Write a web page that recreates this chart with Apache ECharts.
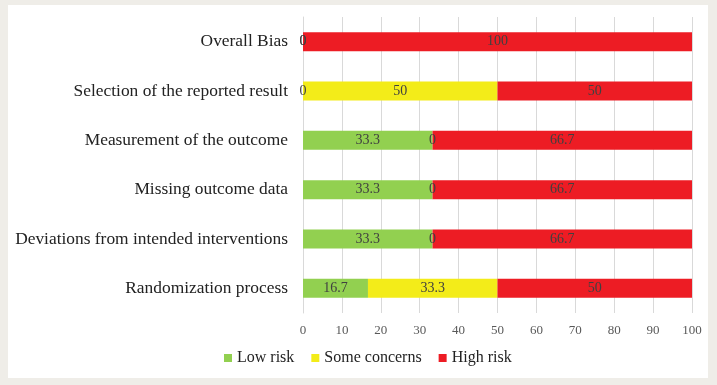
<!DOCTYPE html>
<html>
<head>
<meta charset="utf-8">
<script src="https://cdn.jsdelivr.net/npm/echarts@6/dist/echarts.min.js"></script>
<style>
  html, body { margin: 0; padding: 0; background: #efede8; }
  #chart { width: 717px; height: 385px; }
</style>
</head>
<body>
<div id="chart"></div>
<script>
// domains, top to bottom
const domains = [
  'Overall Bias',
  'Selection of the reported result',
  'Measurement of the outcome',
  'Missing outcome data',
  'Deviations from intended interventions',
  'Randomization process',
]
const lowRisk = [0, 0, 33.3, 33.3, 33.3, 16.7]
const someConcerns = [0, 50, 0, 0, 0, 33.3]
const highRisk = [100, 50, 66.7, 66.7, 66.7, 50]
const xTicks = [0, 10, 20, 30, 40, 50, 60, 70, 80, 90, 100]

const serif = '"Liberation Serif", "DejaVu Serif", serif'
const colors = { low: '#92d050', some: '#f3ec19', high: '#ed1c24' }

const chart = echarts.init(document.getElementById('chart'))

const barLabel = {
  show: true,
  position: 'inside',
  color: '#404040',
  fontFamily: serif,
  fontSize: 14,
}

function makeSeries(name, data, color) {
  return {
    name,
    type: 'bar',
    stack: 'total',
    data,
    barWidth: 19,
    itemStyle: { color },
    label: barLabel,
    emphasis: { disabled: true },
  }
}

chart.setOption({
  backgroundColor: '#efede8',
  animation: false,
  graphic: [
    {
      type: 'rect',
      z: -10,
      shape: { x: 8, y: 5, width: 700, height: 373 },
      style: { fill: '#ffffff' },
    },
  ],
  legend: {
    bottom: 14,
    left: 219,
    itemWidth: 8,
    itemHeight: 8,
    itemGap: 17,
    icon: 'rect',
    textStyle: { fontFamily: serif, fontSize: 16, color: '#222' },
    data: ['Low risk', 'Some concerns', 'High risk'],
  },
  grid: { left: 303, right: 25, top: 17, bottom: 72 },
  xAxis: {
    type: 'value',
    min: xTicks[0],
    max: xTicks[xTicks.length - 1],
    interval: 10,
    axisLine: { show: false },
    axisTick: { show: false },
    axisLabel: { color: '#595959', fontFamily: serif, fontSize: 13, margin: 11 },
    splitLine: { lineStyle: { color: '#d9d9d9', width: 1 } },
  },
  yAxis: {
    type: 'category',
    inverse: true,
    data: domains,
    axisLine: { lineStyle: { color: '#d9d9d9' } },
    axisTick: { show: false },
    axisLabel: { color: '#222', fontFamily: serif, fontSize: 17.4, margin: 15 },
  },
  series: [
    makeSeries('Low risk', lowRisk, colors.low),
    makeSeries('Some concerns', someConcerns, colors.some),
    makeSeries('High risk', highRisk, colors.high),
  ],
})
</script>
</body>
</html>
